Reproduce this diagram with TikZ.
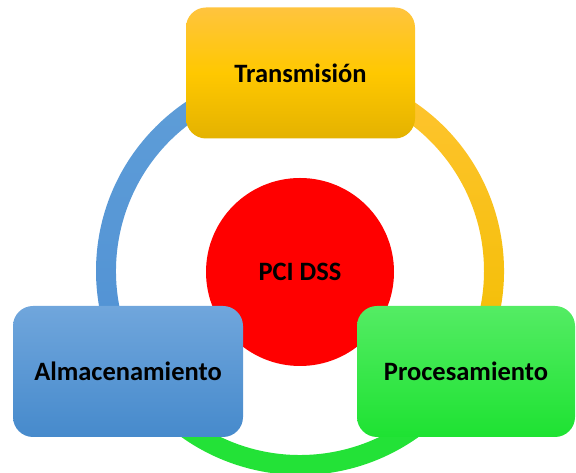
\documentclass[tikz,border=0pt]{standalone}
\usepackage{fontspec}
\setmainfont{Carlito}
\definecolor{ylwtop}{RGB}{255,196,62}
\definecolor{ylwmid}{RGB}{255,200,0}
\definecolor{ylwbot}{RGB}{228,178,0}
\definecolor{blutop}{RGB}{112,166,220}
\definecolor{blubot}{RGB}{70,138,204}
\definecolor{grntop}{RGB}{84,236,100}
\definecolor{grnbot}{RGB}{30,226,50}
\definecolor{ringblue}{RGB}{95,158,216}
\definecolor{ringblue2}{RGB}{80,145,212}
\definecolor{ringylw}{RGB}{255,196,50}
\definecolor{ringylw2}{RGB}{242,190,0}
\definecolor{ringgrn}{RGB}{35,226,55}
\tikzset{
  lbl/.style={font=\bfseries\fontsize{26.5}{30}\selectfont, text=black},
  stagebox/.style={lbl, rounded corners=20pt, minimum height=131pt, inner sep=0pt},
}
\begin{document}
\begin{tikzpicture}[x=1pt,y=1pt]
\useasboundingbox (0,0) rectangle (576,473);
\coordinate (c) at (300,202);
% ring segments
\shade[top color=ringblue, bottom color=ringblue2]
  ([shift={(90:204)}]c) arc[start angle=90,end angle=210,radius=204]
  -- ([shift={(210:184)}]c) arc[start angle=210,end angle=90,radius=184] -- cycle;
\shade[top color=ringylw, bottom color=ringylw2]
  ([shift={(-30:204)}]c) arc[start angle=-30,end angle=90,radius=204]
  -- ([shift={(90:184)}]c) arc[start angle=90,end angle=-30,radius=184] -- cycle;
\fill[ringgrn]
  ([shift={(210:204)}]c) arc[start angle=210,end angle=330,radius=204]
  -- ([shift={(330:184)}]c) arc[start angle=330,end angle=210,radius=184] -- cycle;
% centre
\node[lbl, circle, fill=red, minimum size=188pt, inner sep=0pt] (pci) at (300,201) {PCI DSS};
% boxes
\node[stagebox, minimum width=229pt, top color=ylwtop, bottom color=ylwbot, middle color=ylwmid] (tra) at (300.5,400) {Transmisión};
\node[stagebox, minimum width=230pt, top color=blutop, bottom color=blubot] (alm) at (128,101.5) {Almacenamiento};
\node[stagebox, minimum width=218pt, top color=grntop, bottom color=grnbot] (pro) at (466,101.5) {Procesamiento};
\end{tikzpicture}
\end{document}
